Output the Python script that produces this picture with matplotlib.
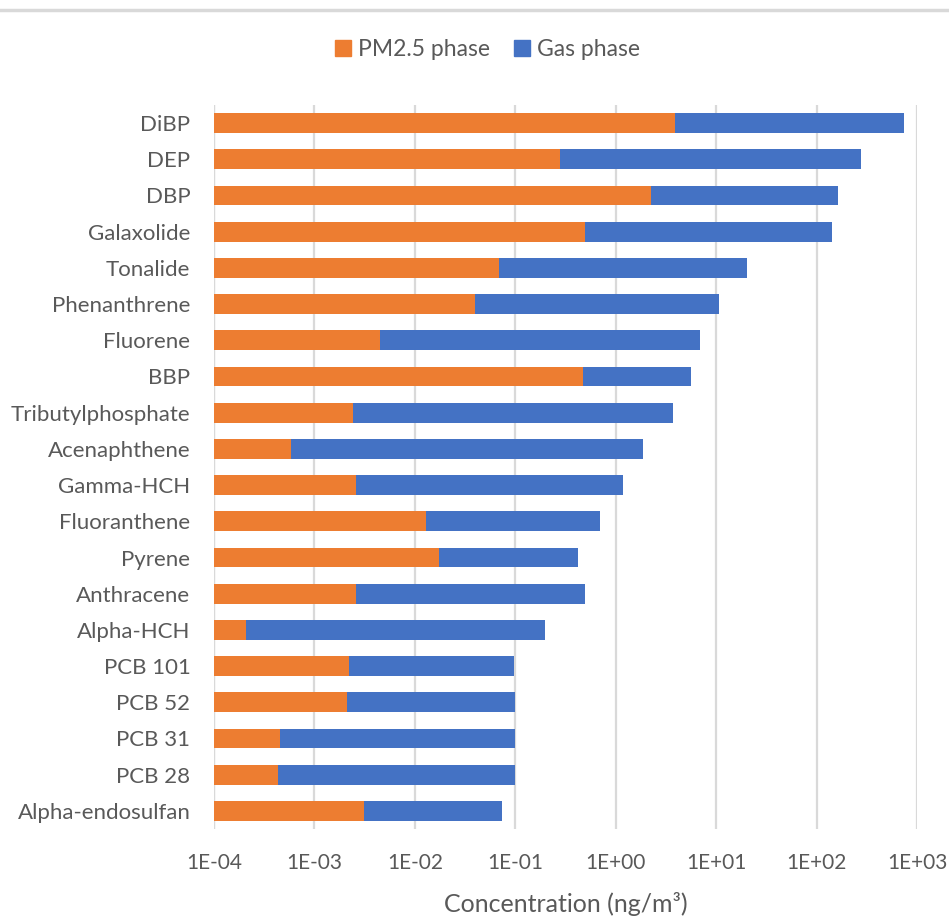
import matplotlib
matplotlib.use("Agg")
import matplotlib.pyplot as plt
from matplotlib.lines import Line2D
import numpy as np

plt.rcParams['font.family'] = ['Lato', 'DejaVu Sans']

compounds = ["DiBP", "DEP", "DBP", "Galaxolide", "Tonalide", "Phenanthrene",
             "Fluorene", "BBP", "Tributylphosphate", "Acenaphthene", "Gamma-HCH",
             "Fluoranthene", "Pyrene", "Anthracene", "Alpha-HCH", "PCB 101",
             "PCB 52", "PCB 31", "PCB 28", "Alpha-endosulfan"]

# PM2.5-bound concentration (ng/m3)
pm25 = [3.9, 0.28, 2.24, 0.49, 0.069, 0.040,
        0.0045, 0.47, 0.0024, 0.00059, 0.0026,
        0.0129, 0.0174, 0.0026, 0.00021, 0.0022,
        0.0021, 0.00045, 0.00043, 0.0031]

# total (PM2.5 + gas) concentration (ng/m3)
total = [740, 277, 163, 143, 20.3, 10.6,
         6.9, 5.6, 3.7, 1.85, 1.18,
         0.70, 0.42, 0.49, 0.198, 0.096,
         0.10, 0.10, 0.10, 0.074]

gas = [t - p for t, p in zip(total, pm25)]

tick_vals = [1e-4, 1e-3, 1e-2, 1e-1, 1e0, 1e1, 1e2, 1e3]
tick_labels = ["1E-04", "1E-03", "1E-02", "1E-01", "1E+00", "1E+01", "1E+02", "1E+03"]

orange = "#ED7D31"
blue = "#4472C4"
text_col = "#595959"
grid_col = "#D9D9D9"

fig = plt.figure(figsize=(9.49, 9.16), dpi=100)
ax = fig.add_axes([214 / 949, 1 - 829 / 916, (917 - 214) / 949, (829 - 105) / 916])

y = np.arange(len(compounds))
h = 0.55
ax.set_xscale('log')
ax.barh(y, pm25, left=0, height=h, color=orange, zorder=3)
ax.barh(y, gas, left=pm25, height=h, color=blue, zorder=3)

ax.set_xlim(1e-4, 1e3)
ax.set_ylim(len(compounds) - 0.5, -0.5)
ax.set_yticks(y)
ax.set_yticklabels(compounds, fontsize=16, color=text_col)
ax.set_xticks(tick_vals)
ax.set_xticklabels(tick_labels, fontsize=15, color=text_col)
ax.xaxis.set_minor_locator(matplotlib.ticker.NullLocator())
ax.tick_params(axis='y', length=0, pad=17)
ax.tick_params(axis='x', length=0, pad=17)

for s in ax.spines.values():
    s.set_visible(False)
ax.grid(axis='x', color=grid_col, linewidth=1.6, zorder=0)
ax.axvline(1e-4, color=grid_col, linewidth=1.6, zorder=0)

ax.set_xlabel("Concentration (ng/m³)", fontsize=18, color=text_col, labelpad=14)

handles = [Line2D([], [], marker='s', linestyle='none', markersize=11,
                  markerfacecolor=orange, markeredgecolor=orange, label="PM2.5 phase"),
           Line2D([], [], marker='s', linestyle='none', markersize=11,
                  markerfacecolor=blue, markeredgecolor=blue, label="Gas phase")]
leg = fig.legend(handles=handles, loc='center', bbox_to_anchor=(487 / 949, 1 - 50 / 916),
                 ncol=2, frameon=False, fontsize=16.5, handletextpad=0.25,
                 columnspacing=1.0, handlelength=0.8)
for t in leg.get_texts():
    t.set_color(text_col)

# frame edge at the top
fig.add_artist(Line2D([0, 1], [1 - 10 / 916, 1 - 10 / 916], color=grid_col, linewidth=2.5))

fig.savefig("out.png", dpi=100, facecolor="white")
